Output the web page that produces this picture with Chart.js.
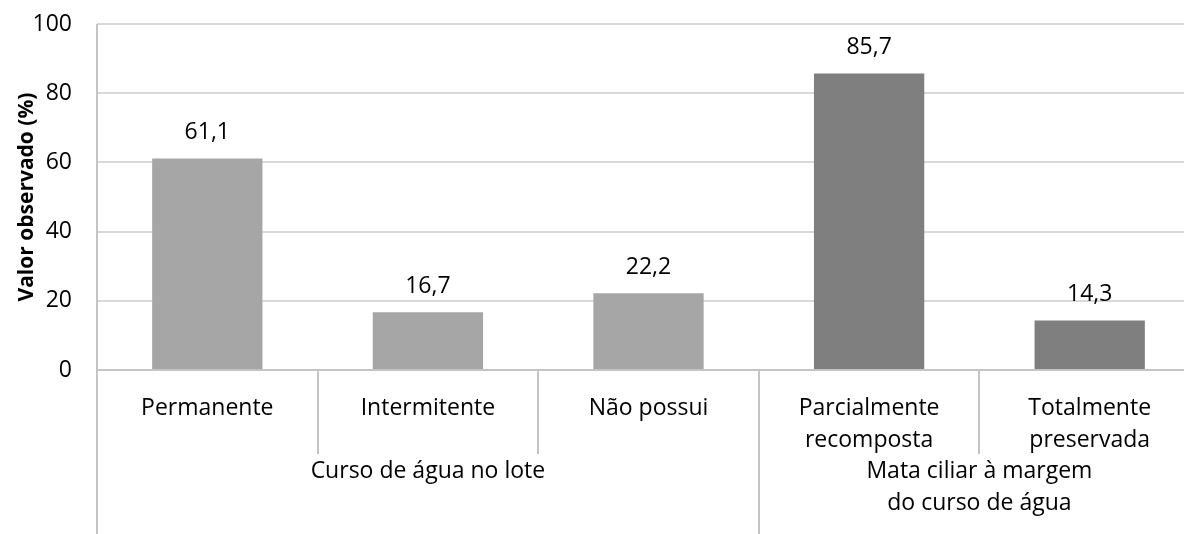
<!DOCTYPE html>
<html lang="pt-BR">
<head>
<meta charset="utf-8">
<title>Valor observado (%)</title>
<script src="https://cdn.jsdelivr.net/npm/chart.js@4.4.1/dist/chart.umd.min.js"></script>
<style>
    html, body {
        margin: 0;
        padding: 0;
        background: #ffffff;
        overflow: hidden;
    }
    #wrap {
        width: 1200px;
        height: 534px;
    }
</style>
</head>
<body>
<div id="wrap">
    <canvas id="grafico" width="1200" height="534"></canvas>
</div>
<script>
// categorias (rótulos de cada barra)
const categorias = [
    ['Permanente'],
    ['Intermitente'],
    ['Não possui'],
    ['Parcialmente', 'recomposta'],
    ['Totalmente', 'preservada']
];
// valores observados (%)
const valores = [61.1, 16.7, 22.2, 85.7, 14.3];
// grupos de categorias e quantas barras cada um tem
const grupos = [
    ['Curso de água no lote'],
    ['Mata ciliar à margem', 'do curso de água']
];
const tamanhoGrupos = [3, 2];
const coresGrupos = ['#a6a6a6', '#7f7f7f'];
// marcas do eixo Y
const ticksY = [0, 20, 40, 60, 80, 100];

document.addEventListener('DOMContentLoaded', function() {
    const fonte = "'Open Sans', sans-serif";
    const corLinha = '#c4c4c4';

    // cor de cada barra conforme o grupo
    const coresBarras = [];
    tamanhoGrupos.forEach((n, g) => {
        for (let i = 0; i < n; i++) coresBarras.push(coresGrupos[g]);
    });

    // escreve o valor em cima de cada barra (vírgula decimal)
    const rotulosValores = {
        id: 'rotulosValores',
        afterDatasetsDraw(chart) {
            const ctx = chart.ctx;
            const meta = chart.getDatasetMeta(0);
            ctx.save();
            ctx.font = '23px ' + fonte;
            ctx.fillStyle = '#000000';
            ctx.textAlign = 'center';
            ctx.textBaseline = 'middle';
            meta.data.forEach((bar, i) => {
                const texto = valores[i].toFixed(1).replace('.', ',');
                ctx.fillText(texto, bar.x, bar.y - 26);
            });
            ctx.restore();
        }
    };

    // linhas divisórias e rótulos dos grupos abaixo do eixo X
    const eixoAgrupado = {
        id: 'eixoAgrupado',
        afterDraw(chart) {
            const ctx = chart.ctx;
            const area = chart.chartArea;
            const x = chart.scales.x;
            const fundo = chart.height;
            const metade = (x.getPixelForValue(1) - x.getPixelForValue(0)) / 2;

            ctx.save();
            ctx.strokeStyle = corLinha;
            ctx.lineWidth = 2;

            // linha do eixo Y prolongada até o fim
            ctx.beginPath();
            ctx.moveTo(area.left, area.top);
            ctx.lineTo(area.left, fundo);
            ctx.stroke();

            // divisórias entre categorias / grupos
            let fimGrupo = 0;
            const limitesGrupo = [];
            tamanhoGrupos.forEach(n => { fimGrupo += n; limitesGrupo.push(fimGrupo); });
            for (let i = 1; i < valores.length; i++) {
                const px = Math.round(x.getPixelForValue(i) - metade);
                const ehGrupo = limitesGrupo.includes(i);
                ctx.beginPath();
                ctx.moveTo(px, area.bottom);
                ctx.lineTo(px, ehGrupo ? fundo : area.bottom + 84);
                ctx.stroke();
            }

            // rótulos dos grupos
            ctx.font = '23px ' + fonte;
            ctx.fillStyle = '#000000';
            ctx.textAlign = 'center';
            ctx.textBaseline = 'middle';
            let inicio = 0;
            grupos.forEach((linhas, g) => {
                const fim = inicio + tamanhoGrupos[g] - 1;
                const esq = x.getPixelForValue(inicio) - metade;
                const dir = x.getPixelForValue(fim) + metade;
                const cx = (esq + dir) / 2;
                linhas.forEach((linha, k) => {
                    ctx.fillText(linha, cx, area.bottom + 101 + k * 32);
                });
                inicio = fim + 1;
            });
            ctx.restore();
        }
    };

    const ctx = document.getElementById('grafico').getContext('2d');
    new Chart(ctx, {
        type: 'bar',
        data: {
            labels: categorias,
            datasets: [{
                data: valores,
                backgroundColor: coresBarras,
                borderWidth: 0,
                barPercentage: 0.5,
                categoryPercentage: 1.0
            }]
        },
        options: {
            responsive: false,
            animation: false,
            layout: {
                padding: { top: 24, right: 0, bottom: 0, left: 0 }
            },
            plugins: {
                legend: { display: false },
                tooltip: { enabled: false }
            },
            scales: {
                x: {
                    grid: { display: false },
                    border: { display: true, color: corLinha, width: 2 },
                    ticks: {
                        color: '#000000',
                        font: { family: fonte, size: 23, lineHeight: 1.39 },
                        padding: 14,
                        maxRotation: 0,
                        autoSkip: false
                    },
                    afterFit(scale) {
                        scale.height = 164;
                    }
                },
                y: {
                    min: 0,
                    max: 100,
                    afterBuildTicks(scale) {
                        scale.ticks = ticksY.map(v => ({ value: v }));
                    },
                    grid: {
                        color: '#d9d9d9',
                        lineWidth: 2,
                        drawTicks: false
                    },
                    border: { display: false },
                    ticks: {
                        color: '#000000',
                        font: { family: fonte, size: 23 },
                        padding: 25
                    },
                    title: {
                        display: true,
                        text: 'Valor observado (%)',
                        color: '#000000',
                        font: { family: fonte, size: 21, weight: 'bold' },
                        padding: { top: 14, bottom: 0 }
                    },
                    afterFit(scale) {
                        scale.width = 97;
                        // o rótulo "100" pode ultrapassar o topo da área
                        scale.paddingTop = 0;
                        scale.paddingBottom = 0;
                    }
                }
            }
        },
        plugins: [rotulosValores, eixoAgrupado]
    });
});
</script>
</body>
</html>
